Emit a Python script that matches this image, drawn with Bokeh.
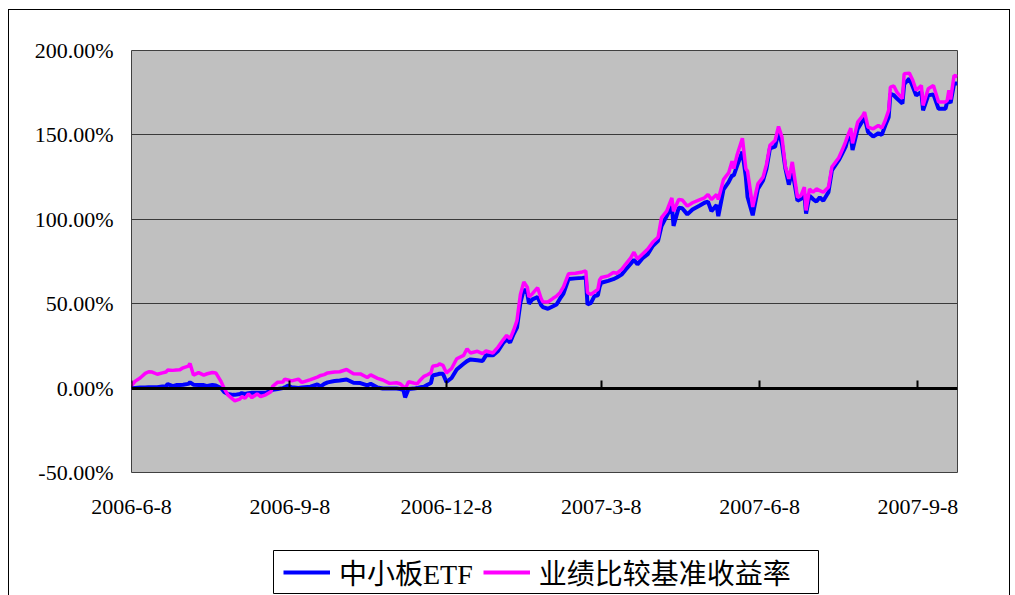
from bokeh.plotting import figure
from bokeh.layouts import column
from bokeh.models import (LinearAxis, FixedTicker, Legend, LegendItem, Range1d)
from bokeh.embed import file_html
from bokeh.resources import INLINE

# ---- data (days since 2006-6-8, cumulative return in %) ----
days = [0,2,5,8,10,12,15,18,20,21,24,26,28,30,33,34,36,39,42,44,47,49,52,54,56,59,60,63,64,66,68,70,73,75,78,81,82,85,88,89,91,93,97,99,104,108,110,112,114,118,121,125,129,133,137,139,143,146,150,154,156,158,159,161,164,166,168,170,172,174,175,178,179,181,183,186,189,193,195,197,201,204,206,210,213,216,218,220,222,224,226,228,230,231,233,236,238,239,242,245,247,249,251,254,258,262,264,265,267,269,271,272,273,277,280,282,285,287,290,292,294,297,300,303,306,308,311,314,315,318,320,323,326,330,333,335,337,340,341,344,347,349,350,352,355,357,358,361,364,367,369,371,374,376,378,380,382,384,387,389,391,392,394,396,398,400,402,405,407,411,413,415,416,418,419,422,425,426,428,431,434,436,438,440,441,443,445,448,449,452,454,456,459,460,463,466,469,473,474,475,476,478,480]

etf = [0,0,0.3,0.3,0.5,0.5,0.5,1,1,2.4,1.2,1.8,1.8,2,2.5,3.4,2,1.8,1.8,1.2,1.8,1.5,0,-2.5,-3.5,-4,-4,-3.5,-3,-3.5,-3,-2.8,-2.8,-2.8,-2.8,-1.5,-1,-0.5,0,0.4,1.5,0.5,0,0.3,0.8,2.2,1,2.5,3.4,4.2,4.5,5.1,3.2,3,1.6,2.5,0.4,-0.2,-0.3,-0.3,-0.5,-1,-5.5,-0.5,-0.3,0,0.5,0.8,2,3,7.5,8.2,8.5,8.5,3.6,6,11,14.4,16,17,16.5,16,19.4,19.4,22,26.7,29,27,31.9,35.8,50.6,58.5,56,50,52.6,54,49.2,48,47,48.5,49.5,53,56,64.7,65,65.3,65.5,49.5,50.5,54.5,55,60,62.4,63.5,64.5,65.5,67.4,70,73.5,76,73.3,77,79.4,84.3,87.3,96,101.9,107.8,96.1,106.8,106.5,102.9,105.8,108,109.8,110.5,104.8,108.5,101.9,117.6,122,126,126,132,140,125,113.2,102.4,118,123,130,142,143,152,144.5,130,120.5,129,111,112,115,103.4,114,112,110.5,113,111,116,129,135,139,143,147,149,141,153.6,158.5,160.5,151.7,149,151,150,155.6,160.5,174.3,173.5,171.4,168.5,180,183.4,178.5,173.4,175.4,164.6,173.4,174,165.5,165.5,169.5,170,169,180.4,180.4]

bench = [1.5,4,6,8.7,9.7,9.5,8.2,9,9.5,10.7,10.5,10.7,10.8,12,13,14.6,7.7,9.2,7.7,8.5,9.2,9,4,-0.5,-4,-6.7,-7.5,-6.5,-5.1,-6,-3.4,-5.7,-3.4,-5,-4,-2.2,1,3.5,3.6,5.3,4.8,4.3,5.3,3.4,5,6.5,7.5,8,9,9.5,9.7,11,8.5,8.4,6.3,7.8,5.8,4.8,2.8,3.2,2.6,0.9,-0.5,3.8,3,2.5,5,7,7.9,9,12.9,13.5,14.4,13.5,9,11.6,17.4,19.4,23.3,20.8,21.8,20.4,22,20.8,24.3,28.6,31.2,29.2,34.1,40,55.5,62.8,59.8,54,55.9,59.5,53.2,51.2,51,53.2,54.5,56.5,60,67.8,68,68.8,69.5,56.5,55.5,57,58.5,64,65.5,66.5,68.5,68,70.5,73.2,77,80.5,76.5,79.5,82.4,86.5,89.4,101,104.8,112.7,104.8,111.7,111.5,107.8,109.8,111.5,112.7,114.7,111.7,114.7,111.7,123.5,127.5,134.4,130,138.4,148,130,128.5,107.3,121,125,132.5,143.8,146.7,155,148.7,131,124,134,113,114,119,105.3,118,116,118,117,116,119,131,136.5,141,146,149,154,145,157.6,161.5,163.5,154.6,153.6,155.6,154,158.5,164.5,178.3,179,175,171.5,186.2,186.6,182.4,176.4,179.3,167.5,177.4,179.3,169.5,169.5,170.4,176.4,171,185.2,184.6]

assert len(days) == len(etf) == len(bench), (len(days), len(etf), len(bench))

x_tick_days = [0, 92, 183, 273, 365, 457]
x_tick_labels = ["2006-6-8", "2006-9-8", "2006-12-8", "2007-3-8", "2007-6-8", "2007-9-8"]
y_ticks = [-50, 0, 50, 100, 150, 200]
y_tick_labels = ["-50.00%", "0.00%", "50.00%", "100.00%", "150.00%", "200.00%"]
series_names = ["中小板ETF", "业绩比较基准收益率"]
colors = ["#0000FF", "#FF00FF"]

SERIF = "Liberation Serif"

# ---------------- main chart ----------------
p = figure(width=1000, height=525, output_backend="svg", toolbar_location=None,
           x_range=Range1d(0, days[-1]), y_range=Range1d(-50, 200),
           min_border_left=122, min_border_right=52, min_border_top=40,
           min_border_bottom=63, frame_align=False)

p.background_fill_color = "#C0C0C0"
p.border_fill_color = "white"
p.outline_line_color = "#404040"
p.outline_line_width = 1

p.xgrid.visible = False
p.ygrid.ticker = FixedTicker(ticks=y_ticks)
p.ygrid.grid_line_color = "#3a3a3a"
p.ygrid.grid_line_width = 1

ya = p.yaxis[0]
ya.ticker = FixedTicker(ticks=y_ticks)
ya.major_label_overrides = dict(zip(y_ticks, y_tick_labels))
ya.axis_line_color = None
ya.major_tick_line_color = None
ya.major_tick_out = 0
ya.major_tick_in = 0
ya.minor_tick_line_color = None
ya.major_label_standoff = 18
ya.major_label_text_font = SERIF
ya.major_label_text_font_size = "22px"
ya.major_label_text_color = "black"

xa = p.xaxis[0]
xa.ticker = FixedTicker(ticks=x_tick_days)
xa.major_label_overrides = dict(zip(x_tick_days, x_tick_labels))
xa.axis_line_color = None
xa.major_tick_line_color = None
xa.major_tick_out = 0
xa.major_tick_in = 0
xa.minor_tick_line_color = None
xa.major_label_standoff = 27
xa.major_label_text_font = SERIF
xa.major_label_text_font_size = "22px"
xa.major_label_text_color = "black"

# category axis crossing at zero
za = LinearAxis(fixed_location=0, ticker=FixedTicker(ticks=x_tick_days))
za.major_label_overrides = {t: "" for t in x_tick_days}
za.axis_line_color = "black"
za.axis_line_width = 3
za.major_tick_in = 8
za.major_tick_out = 0
za.major_tick_line_width = 2
za.major_tick_line_color = "black"
za.minor_tick_line_color = None
za.major_label_standoff = 0
za.major_label_text_font_size = "1px"
p.add_layout(za, "below")

p.line(days, etf, line_color=colors[0], line_width=4)
p.line(days, bench, line_color=colors[1], line_width=3.5)

# ---------------- legend strip ----------------
# the strip's y range lies far above the data, so its line renderers only
# serve as legend samples
lg = figure(width=1000, height=60, output_backend="svg", toolbar_location=None,
            x_range=Range1d(0, days[-1]), y_range=Range1d(1000, 1001),
            x_axis_type=None, y_axis_type=None,
            min_border_left=264, min_border_right=191, min_border_top=15,
            min_border_bottom=2, frame_align=False)
lg.grid.visible = False
lg.background_fill_color = "white"
lg.border_fill_color = "white"
lg.outline_line_color = "black"
lg.outline_line_width = 1
lr1 = lg.line(days, etf, line_color=colors[0], line_width=4)
lr2 = lg.line(days, bench, line_color=colors[1], line_width=4)

legend = Legend(items=[LegendItem(label=series_names[0], renderers=[lr1]),
                       LegendItem(label=series_names[1], renderers=[lr2])],
                orientation="horizontal", location=(10, 1))
legend.label_text_font = "Liberation Serif, Noto Sans CJK SC"
legend.label_text_font_size = "28px"
legend.label_text_color = "black"
legend.glyph_width = 47
legend.glyph_height = 20
legend.label_standoff = 9
legend.spacing = 10
legend.padding = 0
legend.margin = 0
legend.border_line_color = None
legend.background_fill_alpha = 0
lg.add_layout(legend, "center")

layout = column(p, lg, spacing=0)
layout.styles = {"margin-left": "8px", "margin-top": "9px",
                 "border-top": "1px solid #000", "border-left": "1px solid #000",
                 "border-right": "1px solid #000"}

open("out.html", "w").write(file_html(layout, INLINE))
